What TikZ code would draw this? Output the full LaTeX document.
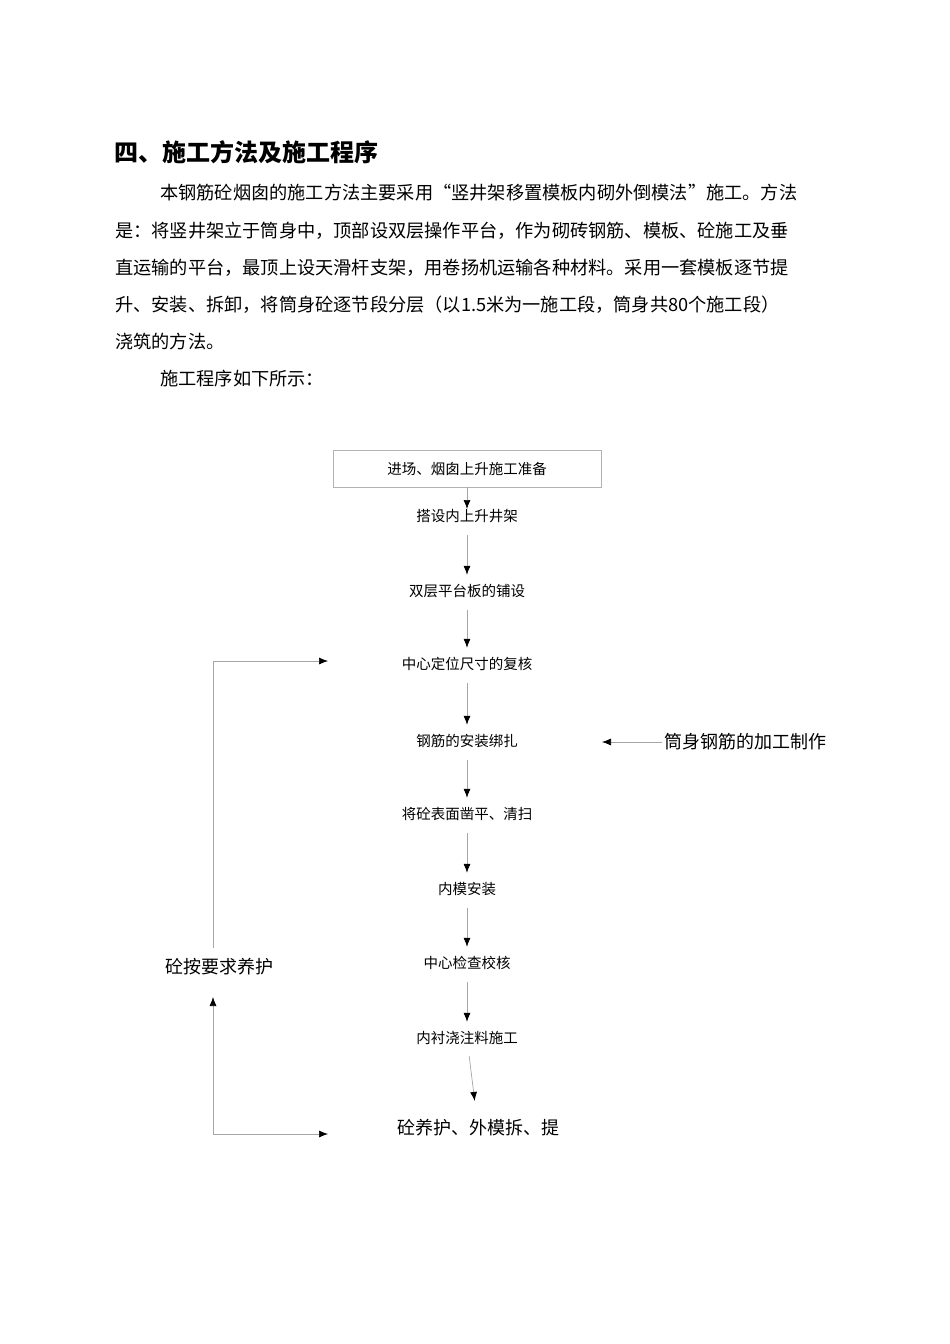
\documentclass[tikz,border=0pt]{standalone}
\usepackage{fontspec}
\setmainfont{Noto Sans CJK SC}
\usetikzlibrary{arrows.meta}
\begin{document}
\begin{tikzpicture}[x=1pt,y=-1pt,
  para/.style={anchor=west,inner sep=0pt,font=\fontsize{18.2}{20}\selectfont},
  stepnode/.style={inner sep=0pt,minimum height=16pt,font=\fontsize{14.5}{16}\selectfont},
  bignode/.style={inner sep=0pt,minimum height=18pt,font=\fontsize{18}{20}\selectfont},
  conn/.style={draw=gray!70,line width=0.7pt,-{Latex[length=9pt,width=7pt,color=black]}}]
\useasboundingbox (0,0) rectangle (950,1344);
\node[anchor=west,inner sep=0pt,font=\fontsize{24}{26}\selectfont\bfseries] (title) at (114,152) {四、施工方法及施工程序};
\node[para] (p1) at (160,193) {本钢筋砼烟囱的施工方法主要采用“竖井架移置模板内砌外倒模法”施工。方法};
\node[para] (p2) at (115,231) {是：将竖井架立于筒身中，顶部设双层操作平台，作为砌砖钢筋、模板、砼施工及垂};
\node[para] (p3) at (115,268) {直运输的平台，最顶上设天滑杆支架，用卷扬机运输各种材料。采用一套模板逐节提};
\node[para] (p4) at (115,305) {升、安装、拆卸，将筒身砼逐节段分层（以1.5米为一施工段，筒身共80个施工段）};
\node[para] (p5) at (115,342) {浇筑的方法。};
\node[para] (p6) at (160,379) {施工程序如下所示：};

\node[draw=gray!60,line width=0.6pt,minimum width=268pt,minimum height=37pt,inner sep=0pt,font=\fontsize{14.5}{16}\selectfont] (b0) at (467,468.5) {进场、烟囱上升施工准备};
\node[stepnode] (s1) at (467,516) {搭设内上升井架};
\node[stepnode] (s2) at (467,591) {双层平台板的铺设};
\node[stepnode] (s3) at (467,664) {中心定位尺寸的复核};
\node[stepnode] (s4) at (467,741) {钢筋的安装绑扎};
\node[stepnode] (s5) at (467,814) {将砼表面凿平、清扫};
\node[stepnode] (s6) at (467,889) {内模安装};
\node[stepnode] (s7) at (467,963) {中心检查校核};
\node[stepnode] (s8) at (467,1038) {内衬浇注料施工};
\node[bignode] (s9) at (478,1128) {砼养护、外模拆、提};
\node[bignode] (r) at (745,742) {筒身钢筋的加工制作};
\node[bignode] (l) at (219,967) {砼按要求养护};

\draw[conn] (b0.south -| s1) -- ([yshift=7]s1.center);
\foreach \a/\b in {s1/s2,s2/s3,s3/s4,s4/s5,s5/s6,s6/s7,s7/s8}
  \draw[conn,shorten <=11pt,shorten >=8pt] (\a) -- (\b);
\draw[conn,shorten <=10pt,shorten >=18pt] (s8) -- (s9);
\draw[conn] ([xshift=-2]r.west) -- (602,742);

\coordinate (top) at (328,661);
\coordinate (bot) at (213,1134);
\coordinate (botend) at (328,1134);
\draw[conn,-] (213,948) -- (213,661);
\draw[conn] (213,661) -- (top);
\draw[conn] (bot) -- (213,997);
\draw[conn] (bot) -- (botend);
\end{tikzpicture}
\end{document}
